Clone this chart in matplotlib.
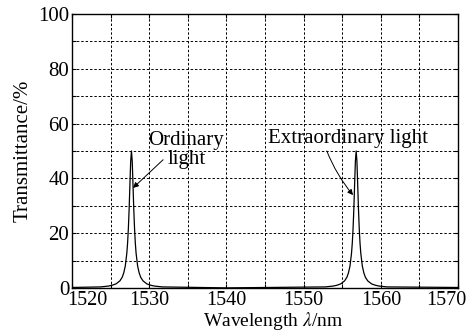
import numpy as np
import matplotlib.pyplot as plt
from matplotlib.transforms import ScaledTranslation

plt.rcParams['font.family'] = ['Liberation Serif', 'DejaVu Serif']
plt.rcParams['mathtext.fontset'] = 'stix'

# ordinary peak (centre ~1527.7 nm)
o_wl = [1520.0, 1523.7, 1524.7, 1525.2, 1525.7, 1526.2, 1526.5, 1526.7, 1526.9, 1527.1, 1527.2,
        1527.3, 1527.4, 1527.5, 1527.6, 1527.7, 1527.8, 1527.9, 1528.0, 1528.1, 1528.2, 1528.3,
        1528.5, 1528.7, 1528.9, 1529.2, 1529.7, 1530.2, 1530.7, 1531.7, 1540.0]
o_t = [0.2, 0.4, 0.7, 1.0, 1.5, 2.6, 3.9, 5.5, 8.0, 12.7, 16.4,
       21.7, 28.8, 37.7, 46.2, 50.0, 46.2, 37.7, 28.8, 21.7, 16.4, 12.7,
       8.0, 5.5, 3.9, 2.6, 1.5, 1.0, 0.7, 0.4, 0.05]

# extraordinary peak (centre ~1556.8 nm)
e_wl = [1540.0, 1552.8, 1553.8, 1554.3, 1554.8, 1555.3, 1555.6, 1555.8, 1556.0, 1556.2, 1556.3,
        1556.4, 1556.5, 1556.6, 1556.7, 1556.8, 1556.9, 1557.0, 1557.1, 1557.2, 1557.3, 1557.4,
        1557.6, 1557.8, 1558.0, 1558.3, 1558.8, 1559.3, 1559.8, 1560.8, 1570.0]
e_t = [0.05, 0.4, 0.7, 1.0, 1.5, 2.6, 3.9, 5.5, 8.0, 12.7, 16.4,
       21.7, 28.8, 37.7, 46.2, 50.0, 46.2, 37.7, 28.8, 21.7, 16.4, 12.7,
       8.0, 5.5, 3.9, 2.6, 1.5, 1.0, 0.7, 0.4, 0.2]

wl = o_wl + e_wl
trans = o_t + e_t

fig = plt.figure(figsize=(4.66, 3.32), dpi=100)
ax = fig.add_axes([0.1545, 0.1325, 0.8285, 0.8255])

ax.plot(wl, trans, color='black', lw=0.9)

ax.set_xlim(1520, 1570)
ax.set_ylim(0, 100)
ax.set_xticks(np.arange(1520, 1571, 10))
ax.set_xticks(np.arange(1525, 1570, 10), minor=True)
ax.set_yticks(np.arange(0, 101, 20))
ax.set_yticks(np.arange(10, 100, 20), minor=True)
ax.grid(True, which='both', color='black', linestyle=(0, (2.5, 2)), lw=0.7)
ax.tick_params(which='both', direction='in', top=True, right=True, labelsize=15,
               length=3, width=0.8)
ax.tick_params(axis='y', pad=2)
ax.tick_params(axis='x', pad=2.5, labelsize=14.5)
for s in ax.spines.values():
    s.set_linewidth(1.0)

# nudge the end labels inward like the original
labels = ax.get_xticklabels()
labels[0].set_transform(labels[0].get_transform() + ScaledTranslation(15/100, 0, fig.dpi_scale_trans))
labels[-1].set_transform(labels[-1].get_transform() + ScaledTranslation(-12/100, 0, fig.dpi_scale_trans))

ax.set_xlabel(r'Wavelength $\lambda$/nm', fontsize=14, va='bottom')
ax.xaxis.set_label_coords(0.52, -0.16)
ax.set_ylabel('Transmittance/%', fontsize=15, labelpad=4)

ax.text(1534.8, 50.3, 'Ordinary\nlight', ha='center', va='center', fontsize=15,
        linespacing=1.0)
ax.annotate('', xy=(1527.9, 36.5), xytext=(1531.8, 46.8),
            arrowprops=dict(arrowstyle='-|>', color='black', lw=0.7,
                            mutation_scale=8, shrinkA=0, shrinkB=0))
ax.text(1555.75, 54.5, 'Extraordinary light', ha='center', va='center', fontsize=15)
ax.annotate('', xy=(1556.4, 33.9), xytext=(1553.0, 50.0),
            arrowprops=dict(arrowstyle='-|>', color='black', lw=0.7,
                            mutation_scale=8, shrinkA=0, shrinkB=0,
                            connectionstyle='arc3,rad=0.08'))

fig.savefig('out.png', dpi=100)
